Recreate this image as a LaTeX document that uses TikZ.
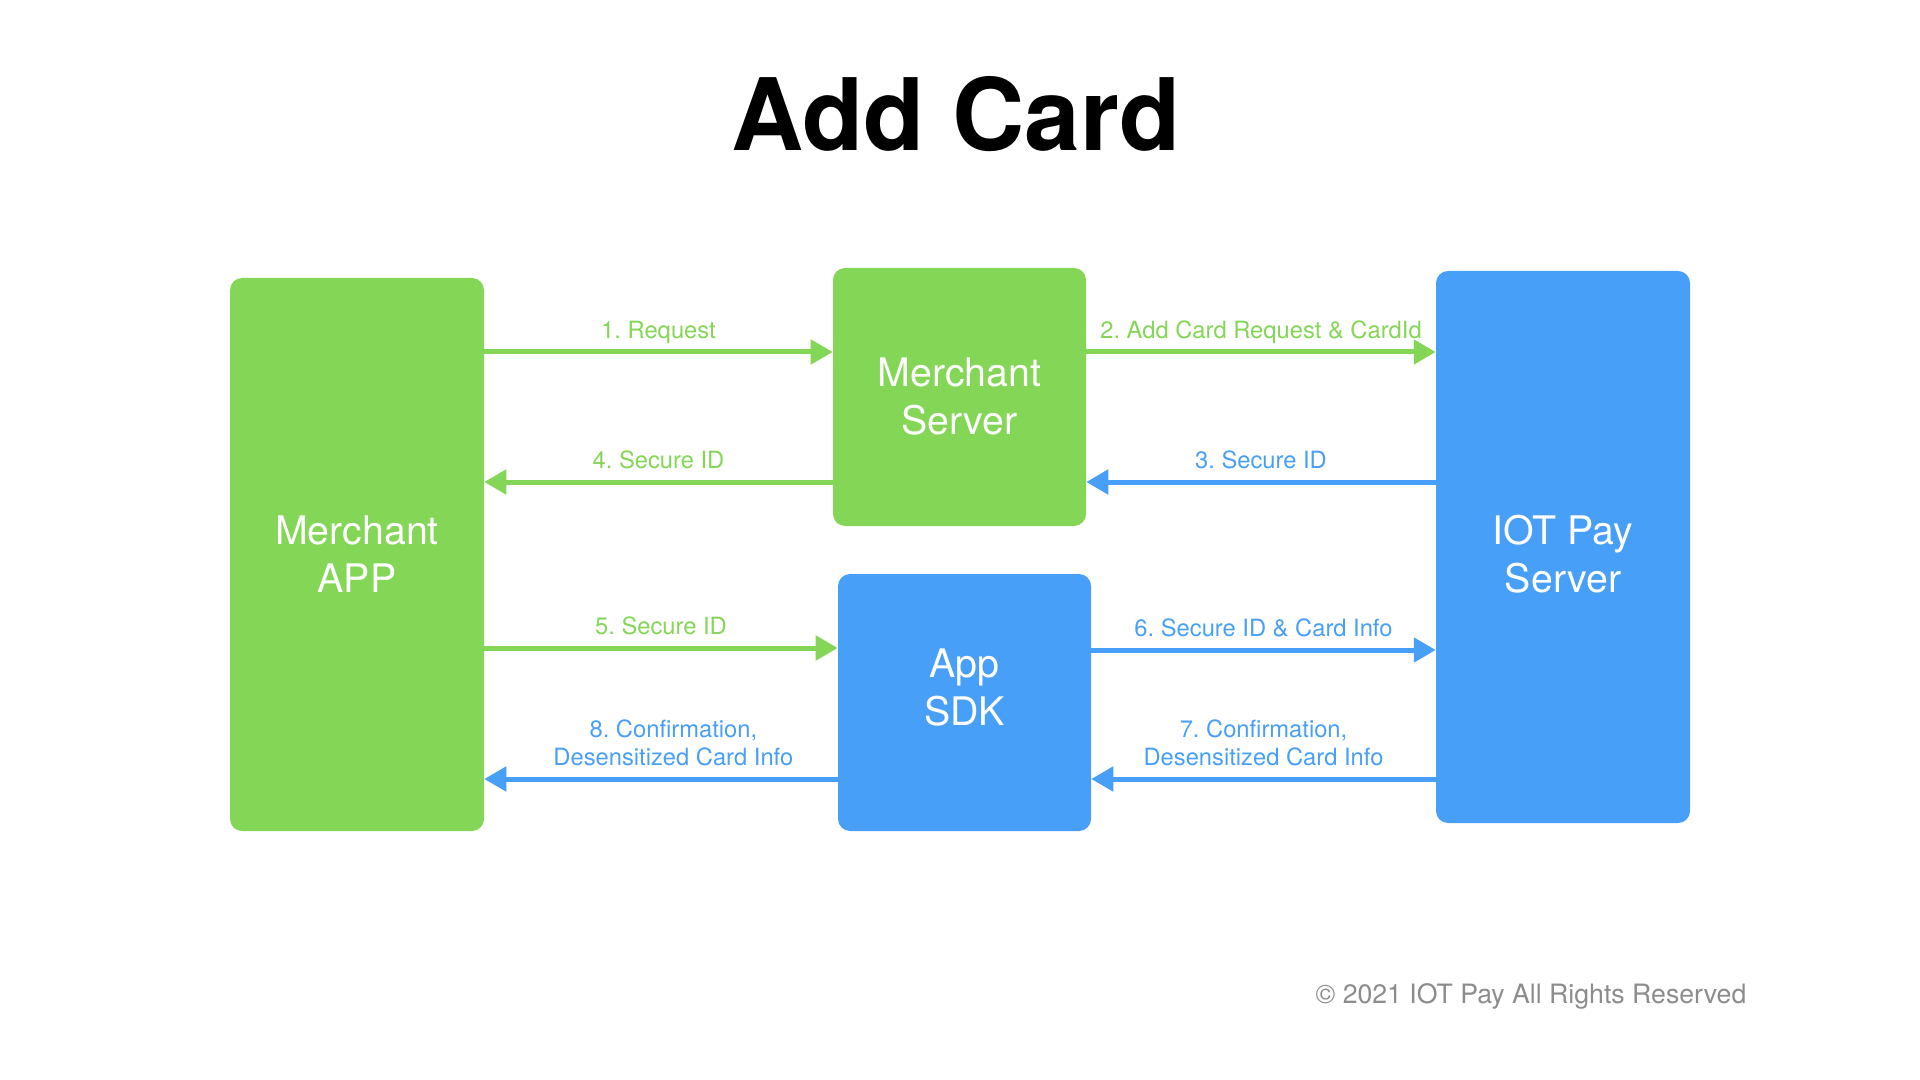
\documentclass[tikz,border=0pt]{standalone}
\usepackage{fontspec}
\setmainfont{TeX Gyre Heros}
\usepackage{tikz}
\usetikzlibrary{arrows.meta}
\definecolor{cardgreen}{RGB}{132,214,86}
\definecolor{cardblue}{RGB}{72,159,248}
\definecolor{cardgray}{RGB}{140,140,140}
\frenchspacing

\begin{document}
\begin{tikzpicture}[x=0.75pt,y=0.75pt,yscale=-1,xscale=1,
  block/.style={rounded corners=9pt, text=white, align=center, inner sep=0pt, font=\fontsize{29.5}{36}\selectfont},
  flow/.style={line width=3.75pt, -{Triangle[length=16.5pt,width=18pt]}},
  msg/.style={midway, above, align=center, inner xsep=0pt, inner ysep=8.5pt, text depth=0pt, font=\fontsize{17.8}{21}\selectfont}]
\useasboundingbox (0,0) rectangle (1920,1080);

% Title
\node [anchor=base, font=\fontsize{75}{80}\selectfont\bfseries] (title) at (956,151) {Add Card};

%Boxes
\node [block, fill=cardgreen, minimum width=190.5pt, minimum height=414.75pt] (mapp) at (357,554.5) {Merchant\\APP};
\node [block, fill=cardgreen, minimum width=189.75pt, minimum height=193.5pt] (msrv) at (959.5,397) {Merchant\\Server};
\node [block, fill=cardblue, minimum width=189.75pt, minimum height=192.75pt, text depth=22.5pt] (sdk) at (964.5,702.5) {App\\SDK};
\node [block, fill=cardblue, minimum width=190.5pt, minimum height=414pt, text height=69pt] (iot) at (1563,547) {IOT Pay\\Server};

%Rows of the messages
\coordinate (rowa) at (0,352);
\coordinate (rowb) at (0,482);
\coordinate (rowc) at (0,648);
\coordinate (rowd) at (0,650);
\coordinate (rowe) at (0,779);

%Messages
\draw [flow, cardgreen] (mapp.east |- rowa) -- (msrv.west |- rowa) node [msg] {1. Request};
\draw [flow, cardgreen] (msrv.east |- rowa) -- (iot.west |- rowa) node [msg] {2. Add Card Request \& CardId};
\draw [flow, cardblue] (iot.west |- rowb) -- (msrv.east |- rowb) node [msg] {3. Secure ID};
\draw [flow, cardgreen] (msrv.west |- rowb) -- (mapp.east |- rowb) node [msg] {4. Secure ID};
\draw [flow, cardgreen] (mapp.east |- rowc) -- (sdk.west |- rowc) node [msg] {5. Secure ID};
\draw [flow, cardblue] (sdk.east |- rowd) -- (iot.west |- rowd) node [msg] {6. Secure ID \& Card Info};
\draw [flow, cardblue] (iot.west |- rowe) -- (sdk.east |- rowe) node [msg] {7. Confirmation,\\Desensitized Card Info};
\draw [flow, cardblue] (sdk.west |- rowe) -- (mapp.east |- rowe) node [msg, pos=0.465] {8. Confirmation,\\Desensitized Card Info};

% Footer
\node [anchor=base east, text=cardgray, font=\fontsize{20}{22}\selectfont] (rights) at (1751,1003) {© 2021 IOT Pay All Rights Reserved};

\end{tikzpicture}
\end{document}
